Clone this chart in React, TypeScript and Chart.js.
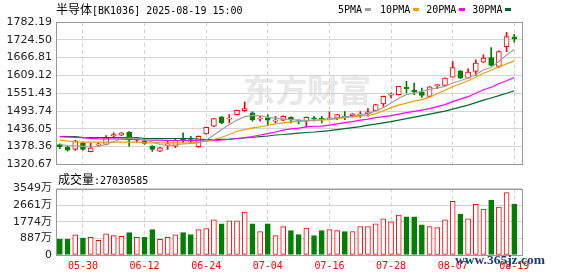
import React, { useEffect, useRef } from 'react';
import { Chart, registerables } from 'chart.js';

Chart.register(...registerables);

// ---------------- data ----------------
const dates = [
  '05-27', '05-28', '05-29', '05-30', '06-03', '06-04', '06-05', '06-06', '06-09', '06-10',
  '06-11', '06-12', '06-13', '06-16', '06-17', '06-18', '06-19', '06-20', '06-23', '06-24',
  '06-25', '06-26', '06-27', '06-30', '07-01', '07-02', '07-03', '07-04', '07-07', '07-08',
  '07-09', '07-10', '07-11', '07-14', '07-15', '07-16', '07-17', '07-18', '07-21', '07-22',
  '07-23', '07-24', '07-25', '07-28', '07-29', '07-30', '07-31', '08-01', '08-04', '08-05',
  '08-06', '08-07', '08-08', '08-11', '08-12', '08-13', '08-14', '08-15', '08-18', '08-19',
];

const open = [
  1385.2, 1376.5, 1369.1, 1390.7, 1361.7, 1383.5, 1385.2, 1413.5, 1415.2, 1425.0,
  1399.1, 1395.9, 1379.7, 1363.6, 1383.5, 1379.7, 1401.4, 1401.4, 1377.8, 1419.8,
  1444.3, 1474.6, 1467.5, 1482.0, 1495.0, 1487.5, 1467.5, 1471.4, 1461.2, 1463.7,
  1473.3, 1462.0, 1460.4, 1471.4, 1469.1, 1468.2, 1471.4, 1476.6, 1478.8, 1480.5,
  1485.3, 1495.0, 1516.6, 1545.0, 1546.6, 1571.4, 1561.8, 1554.0, 1541.1, 1576.6,
  1576.6, 1603.7, 1624.1, 1600.5, 1621.8, 1652.1, 1667.0, 1637.9, 1702.5, 1733.8,
];
const high = [
  1387.5, 1379.7, 1399.0, 1393.0, 1390.7, 1390.7, 1414.0, 1423.0, 1424.0, 1427.0,
  1406.8, 1401.4, 1382.0, 1376.0, 1395.9, 1404.5, 1423.0, 1412.0, 1413.0, 1442.0,
  1470.0, 1476.0, 1482.0, 1497.0, 1523.0, 1490.8, 1476.6, 1482.0, 1476.6, 1478.0,
  1474.6, 1465.9, 1474.6, 1476.6, 1476.6, 1490.8, 1483.0, 1492.0, 1485.0, 1492.0,
  1501.4, 1515.0, 1542.0, 1552.1, 1574.0, 1589.5, 1584.4, 1568.2, 1573.0, 1580.0,
  1601.0, 1654.1, 1625.0, 1630.5, 1659.6, 1675.7, 1699.3, 1689.0, 1749.0, 1742.5,
];
const low = [
  1371.4, 1363.6, 1366.0, 1366.8, 1361.0, 1379.7, 1384.0, 1406.8, 1414.0, 1379.7,
  1393.0, 1385.2, 1363.0, 1362.0, 1369.1, 1374.6, 1390.7, 1391.0, 1376.0, 1419.0,
  1443.0, 1453.0, 1455.3, 1481.0, 1492.0, 1460.4, 1460.4, 1447.5, 1455.3, 1462.0,
  1455.3, 1452.0, 1441.1, 1460.4, 1455.3, 1465.9, 1465.9, 1465.9, 1474.6, 1473.3,
  1476.6, 1494.0, 1508.8, 1535.9, 1546.0, 1552.1, 1546.6, 1537.9, 1540.0, 1566.0,
  1576.0, 1603.0, 1599.0, 1600.0, 1608.9, 1651.0, 1640.0, 1634.7, 1686.3, 1716.7,
];
const close = [
  1377.8, 1366.8, 1395.9, 1369.1, 1374.6, 1386.5, 1406.8, 1416.5, 1423.0, 1401.4,
  1403.6, 1388.4, 1369.1, 1374.6, 1386.5, 1399.1, 1398.1, 1395.9, 1412.0, 1441.1,
  1469.1, 1455.3, 1470.5, 1495.9, 1501.4, 1465.9, 1470.5, 1463.7, 1464.2, 1476.6,
  1465.9, 1459.0, 1473.3, 1468.2, 1467.0, 1471.4, 1482.0, 1473.3, 1484.3, 1483.5,
  1490.8, 1514.3, 1541.1, 1548.5, 1573.4, 1566.0, 1555.3, 1544.3, 1572.4, 1578.9,
  1600.5, 1634.7, 1600.5, 1619.9, 1648.9, 1665.0, 1641.2, 1686.3, 1734.8, 1727.3,
];

// volume, unit: 万
const volume = [
  835, 835, 1080, 903, 939, 783, 1132, 1044, 992, 1200,
  939, 939, 1357, 835, 939, 1080, 1200, 1096, 1357, 1409,
  1879, 1670, 1827, 1827, 2296, 1670, 1253, 1670, 1044, 1514,
  1305, 1096, 1444, 1044, 1305, 1357, 1305, 1253, 1253, 1514,
  1514, 1670, 1931, 1775, 2140, 2035, 2035, 1618, 1514, 1461,
  1879, 2870, 2192, 1931, 2714, 2453, 2923, 2557, 3340, 2703,
];

const ma5 = [
  1385.2, 1382.0, 1380.4, 1378.8, 1377.1, 1378.8, 1385.2, 1394.9, 1403.0, 1406.2,
  1404.6, 1399.7, 1393.3, 1385.2, 1382.0, 1383.6, 1386.8, 1388.4, 1390.1, 1399.7,
  1415.9, 1433.6, 1449.8, 1464.3, 1475.6, 1479.8, 1477.8, 1474.0, 1470.1, 1468.2,
  1465.9, 1464.3, 1462.7, 1464.3, 1464.9, 1468.2, 1471.4, 1474.6, 1477.2, 1481.1,
  1484.3, 1494.0, 1504.6, 1519.8, 1535.3, 1546.6, 1552.1, 1557.2, 1563.7, 1568.2,
  1573.4, 1584.4, 1591.8, 1600.5, 1611.1, 1627.3, 1634.7, 1654.1, 1675.7, 1693.4,
];
const ma10 = [
  1399.1, 1396.5, 1393.9, 1392.6, 1392.6, 1392.6, 1392.6, 1392.6, 1392.6, 1392.6,
  1392.6, 1390.7, 1390.7, 1390.7, 1390.7, 1390.7, 1390.7, 1390.7, 1392.6, 1395.9,
  1401.4, 1408.8, 1417.5, 1428.1, 1433.6, 1439.1, 1442.3, 1447.5, 1452.0, 1455.3,
  1458.5, 1460.4, 1462.7, 1463.6, 1464.9, 1465.9, 1469.1, 1472.4, 1474.6, 1477.8,
  1478.8, 1485.3, 1495.0, 1504.6, 1512.7, 1519.2, 1525.6, 1530.5, 1538.5, 1549.8,
  1561.1, 1572.4, 1582.1, 1591.8, 1603.1, 1616.0, 1625.7, 1637.0, 1646.6, 1656.3,
];
const ma20 = [
  1410.4, 1409.4, 1408.5, 1407.2, 1405.2, 1403.6, 1403.0, 1403.0, 1402.3, 1402.0,
  1401.4, 1399.7, 1399.1, 1399.1, 1398.8, 1398.1, 1398.1, 1397.5, 1397.2, 1397.2,
  1398.1, 1399.7, 1401.4, 1404.6, 1407.8, 1411.0, 1415.9, 1420.7, 1425.6, 1432.0,
  1435.9, 1438.5, 1442.3, 1444.3, 1444.9, 1448.2, 1452.0, 1456.2, 1459.4, 1464.3,
  1467.5, 1472.4, 1475.6, 1478.8, 1483.7, 1488.5, 1492.7, 1496.6, 1501.4, 1507.9,
  1514.3, 1524.0, 1532.1, 1540.1, 1551.4, 1562.7, 1570.8, 1582.1, 1591.8, 1602.4,
];
const ma30 = [
  1411.0, 1411.0, 1411.0, 1407.2, 1407.2, 1407.2, 1407.2, 1407.2, 1407.2, 1407.2,
  1407.2, 1404.6, 1404.6, 1404.6, 1404.6, 1404.6, 1404.6, 1404.6, 1402.3, 1401.4,
  1401.4, 1402.0, 1403.0, 1404.6, 1406.2, 1407.8, 1411.0, 1412.7, 1415.9, 1417.5,
  1419.8, 1422.3, 1424.0, 1425.6, 1427.8, 1430.4, 1433.6, 1436.9, 1440.1, 1443.3,
  1448.2, 1451.4, 1455.3, 1459.4, 1464.3, 1469.1, 1474.0, 1478.8, 1483.7, 1488.5,
  1493.3, 1499.8, 1506.2, 1512.7, 1520.8, 1528.8, 1535.9, 1543.4, 1551.4, 1559.5,
];

const priceTicks = [1320.67, 1378.36, 1436.05, 1493.74, 1551.43, 1609.12, 1666.81, 1724.5, 1782.19];
const volTicks = [0, 887, 1774, 2661, 3549];
const labelIdx = [3, 11, 19, 27, 35, 43, 51, 59];

const maLabels = ['5PMA', '10PMA', '20PMA', '30PMA'];
const maColors = ['#a0a0a0', '#f0a000', '#ff00ff', '#00682f'];

const titleName = '半导体';
const titleCode = '[BK1036] 2025-08-19 15:00';
const volTitle = '成交量';
const lastVolume = '27030585';

// ---------------- styles ----------------
const UP = '#ff0000';
const DOWN = '#008000';
const GRID = '#d4d4d4';
const FRAME = '#999999';
const MONO = "'DejaVu Sans Mono', monospace";
const CJK = "'Noto Sans CJK SC', sans-serif";

const framePlugin = {
  id: 'frame',
  afterDraw(chart: any) {
    const { ctx, chartArea: a } = chart;
    ctx.save();
    ctx.strokeStyle = FRAME;
    ctx.lineWidth = 1;
    ctx.strokeRect(Math.round(a.left) + 0.5, Math.round(a.top) + 0.5, Math.round(a.right - a.left), Math.round(a.bottom - a.top));
    ctx.restore();
  },
};

function xScale(showLabels: boolean, height: number) {
  return {
    type: 'linear',
    min: -0.5,
    max: 60,
    offset: false,
    afterBuildTicks: (s: any) => {
      s.ticks = labelIdx.map((v) => ({ value: v }));
    },
    afterFit: (s: any) => {
      s.height = height;
    },
    ticks: {
      display: showLabels,
      autoSkip: false,
      maxRotation: 0,
      padding: 5,
      color: UP,
      font: { family: MONO, size: 10 },
      callback: (v: any) => dates[v] ?? '',
    },
    grid: { color: GRID, drawTicks: false, offset: false, borderDash: [4, 3] },
    border: { display: false, dash: [4, 3] },
  };
}

export default function App() {
  const priceRef = useRef<HTMLCanvasElement>(null);
  const volRef = useRef<HTMLCanvasElement>(null);

  useEffect(() => {
    const idx = dates.map((_, i) => i);
    const isUp = idx.map((i) => close[i] >= open[i]);
    const bodies = idx.map((i) => {
      let a = open[i];
      let b = close[i];
      if (Math.abs(a - b) < 4) {
        const m = (a + b) / 2;
        a = m - 2;
        b = m + 2;
      }
      return { x: i, y: [a, b] };
    });
    const wicks = idx.map((i) => ({ x: i, y: [low[i], high[i]] }));
    const lineDs = (arr: number[], color: string) => ({
      type: 'line',
      data: arr.map((v, i) => ({ x: i, y: v })),
      borderColor: color,
      borderWidth: 1.2,
      pointRadius: 0,
      tension: 0,
      fill: false,
      order: 0,
    });

    const priceChart = new Chart(priceRef.current as HTMLCanvasElement, {
      type: 'bar',
      data: {
        datasets: [
          lineDs(ma5, maColors[0]),
          lineDs(ma10, maColors[1]),
          lineDs(ma20, maColors[2]),
          lineDs(ma30, maColors[3]),
          {
            type: 'bar',
            data: bodies,
            backgroundColor: idx.map((i) => (isUp[i] ? '#ffffff' : DOWN)),
            borderColor: idx.map((i) => (isUp[i] ? UP : DOWN)),
            borderWidth: 1,
            borderSkipped: false,
            barThickness: 5,
            grouped: false,
            order: 1,
          },
          {
            type: 'bar',
            data: wicks,
            backgroundColor: idx.map((i) => (isUp[i] ? UP : DOWN)),
            borderWidth: 0,
            barThickness: 1,
            grouped: false,
            order: 2,
          },
        ] as any,
      },
      options: {
        animation: false,
        responsive: false,
        events: [],
        layout: { padding: { top: 22, right: 56, left: 0, bottom: 0 } },
        plugins: { legend: { display: false }, tooltip: { enabled: false } },
        scales: {
          x: xScale(false, 10) as any,
          y: {
            min: 1320.67,
            max: 1782.19,
            beginAtZero: false,
            afterBuildTicks: (s: any) => {
              s.ticks = priceTicks.map((v) => ({ value: v }));
            },
            afterFit: (s: any) => {
              s.width = 56;
            },
            ticks: {
              autoSkip: false,
              padding: 4,
              color: '#222222',
              font: { family: "'DejaVu Sans', sans-serif", size: 11 },
              callback: (v: any) => Number(v).toFixed(2),
            },
            grid: { color: GRID, drawTicks: false },
            border: { display: false },
          },
        },
      },
      plugins: [framePlugin],
    } as any);

    const volChart = new Chart(volRef.current as HTMLCanvasElement, {
      type: 'bar',
      data: {
        datasets: [
          {
            data: volume.map((v, i) => ({ x: i, y: v })),
            backgroundColor: idx.map((i) => (isUp[i] ? '#ffffff' : DOWN)),
            borderColor: idx.map((i) => (isUp[i] ? UP : DOWN)),
            borderWidth: 1,
            borderSkipped: false,
            barThickness: 5,
            grouped: false,
          },
        ] as any,
      },
      options: {
        animation: false,
        responsive: false,
        events: [],
        layout: { padding: { top: 9, right: 56, left: 0, bottom: 0 } },
        plugins: { legend: { display: false }, tooltip: { enabled: false } },
        scales: {
          x: xScale(true, 21) as any,
          y: {
            min: 0,
            max: 3549,
            afterBuildTicks: (s: any) => {
              s.ticks = volTicks.map((v) => ({ value: v }));
            },
            afterFit: (s: any) => {
              s.width = 56;
            },
            ticks: {
              autoSkip: false,
              padding: 4,
              color: '#222222',
              font: { family: "'DejaVu Sans', 'Noto Sans CJK SC', sans-serif", size: 11 },
              callback: (v: any) => (Number(v) === 0 ? '0' : `${v}万`),
            },
            grid: { color: GRID, drawTicks: false },
            border: { display: false },
          },
        },
      },
      plugins: [framePlugin],
    } as any);

    return () => {
      priceChart.destroy();
      volChart.destroy();
    };
  }, []);

  return (
    <div style={{ position: 'fixed', left: 0, top: 0, width: 578, height: 276, background: '#ffffff', overflow: 'hidden' }}>
      {/* faint watermark */}
      <div
        style={{
          position: 'absolute', left: 243, top: 68, zIndex: 0, font: `bold 32px ${CJK}`,
          color: '#e8e8e8', lineHeight: '40px', whiteSpace: 'nowrap',
        }}
      >
        东方财富
      </div>
      <canvas ref={priceRef} width={578} height={175} style={{ position: 'absolute', left: 0, top: 0, zIndex: 1 }} />
      <canvas ref={volRef} width={578} height={98} style={{ position: 'absolute', left: 0, top: 178, zIndex: 1 }} />
      {/* title */}
      <div style={{ position: 'absolute', left: 56, top: 0, zIndex: 2, lineHeight: '16px', whiteSpace: 'nowrap', color: '#000' }}>
        <span style={{ font: `12px ${CJK}` }}>{titleName}</span>
        <span style={{ font: `10px ${MONO}` }}>{titleCode}</span>
      </div>
      {/* legend */}
      <div style={{ position: 'absolute', left: 338, top: 0, zIndex: 2, display: 'flex', alignItems: 'center', height: 18, whiteSpace: 'nowrap' }}>
        {maLabels.map((t, k) => (
          <div key={t} style={{ display: 'flex', alignItems: 'center', marginRight: k === 0 ? 9 : 7 }}>
            <span style={{ font: `10px ${MONO}`, color: '#000' }}>{t}</span>
            <span style={{ display: 'inline-block', width: 6, height: 3, background: maColors[k], marginLeft: 3 }} />
          </div>
        ))}
      </div>
      {/* volume title */}
      <div style={{ position: 'absolute', left: 58, top: 170, zIndex: 2, lineHeight: '16px', whiteSpace: 'nowrap', color: '#000' }}>
        <span style={{ font: `12px ${CJK}` }}>{volTitle}</span>
        <span style={{ font: `10px ${MONO}` }}>:{lastVolume}</span>
      </div>
      {/* site watermark */}
      <div
        style={{
          position: 'absolute', left: 455, top: 251, zIndex: 3, font: "bold 13.5px 'Liberation Serif', serif",
          color: '#1f3b73', whiteSpace: 'nowrap', lineHeight: '18px',
        }}
      >
        www.365jz.com
      </div>
    </div>
  );
}
